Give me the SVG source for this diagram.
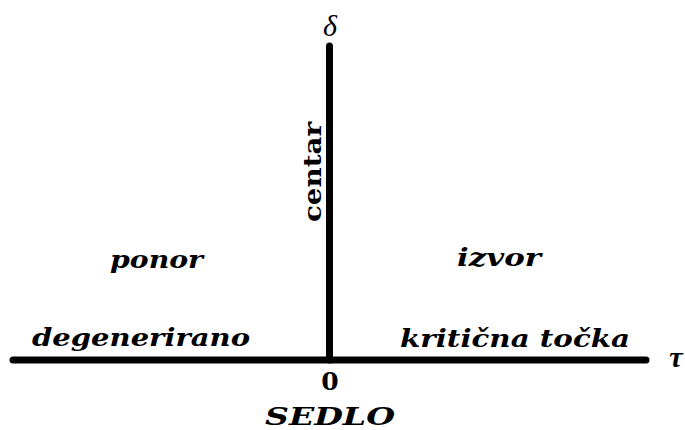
<svg xmlns="http://www.w3.org/2000/svg" width="685" height="430" viewBox="0 0 685 430">
<style>
.ax{stroke:#000;stroke-width:7;stroke-linecap:round;fill:none}
.t{font-family:"DejaVu Serif","Liberation Serif",serif;fill:#000}
.bi{font-style:italic;font-weight:bold;font-size:25px}
.m{font-family:"Liberation Serif","DejaVu Serif",serif;font-style:italic;font-size:30px}
.u{font-size:25px;font-weight:bold}
</style>
<rect width="685" height="430" fill="#fff"/>
<g id="connectors">
<line class="ax" x1="13" y1="360" x2="646" y2="360"/>
<line class="ax" x1="329.5" y1="46" x2="329.5" y2="360"/>
</g>
<g id="delta"><text class="t m" x="330" y="36" text-anchor="middle">δ</text></g>
<g id="tau"><text class="t m" x="676" y="367" text-anchor="middle" font-weight="bold">τ</text></g>
<g id="centar"><text class="t u" transform="translate(321,222) rotate(-90)" textLength="100" lengthAdjust="spacingAndGlyphs">centar</text></g>
<g id="ponor"><text class="t bi" x="110" y="268" textLength="93" lengthAdjust="spacingAndGlyphs">ponor</text></g>
<g id="izvor"><text class="t bi" x="457" y="266" textLength="84" lengthAdjust="spacingAndGlyphs">izvor</text></g>
<g id="degenerirano"><text class="t bi" x="32" y="346" textLength="218" lengthAdjust="spacingAndGlyphs">degenerirano</text></g>
<g id="kriticna"><text class="t bi" x="400" y="347" textLength="230" lengthAdjust="spacingAndGlyphs">kritična točka</text></g>
<g id="zero"><text class="t u" x="330" y="390" text-anchor="middle">0</text></g>
<g id="sedlo"><text class="t bi" x="265" y="425" textLength="130" lengthAdjust="spacingAndGlyphs">SEDLO</text></g>
</svg>
